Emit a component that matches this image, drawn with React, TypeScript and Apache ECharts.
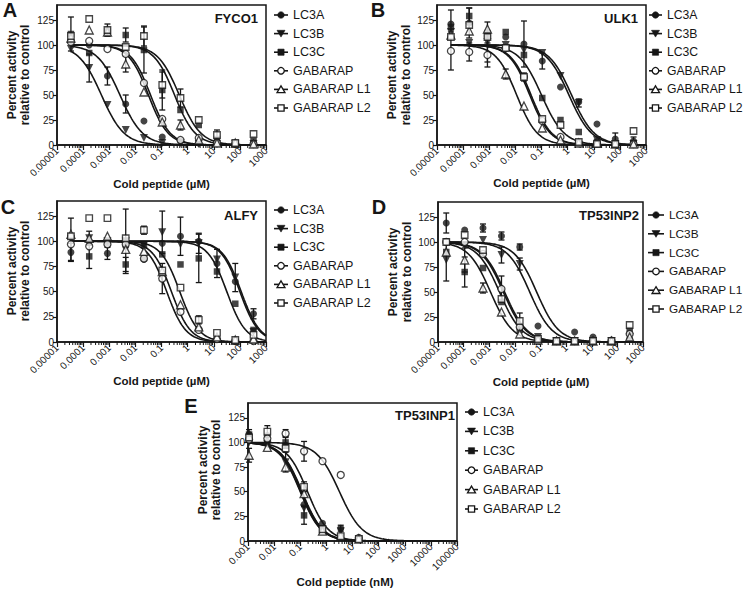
import React, { useEffect, useRef } from 'react';
import * as echarts from 'echarts';

// ---------- categories / labels ----------
const seriesNames = ['LC3A', 'LC3B', 'LC3C', 'GABARAP', 'GABARAP L1', 'GABARAP L2'];
const panelTitles = ['FYCO1', 'ULK1', 'ALFY', 'TP53INP2', 'TP53INP1'];
const panelLetters = ['A', 'B', 'C', 'D', 'E'];
const xAxisTitles = ['Cold peptide (µM)', 'Cold peptide (µM)', 'Cold peptide (µM)', 'Cold peptide (µM)', 'Cold peptide (nM)'];
const yAxisTitle = 'Percent activity\nrelative to control';
const yTickValues = [0, 25, 50, 75, 100, 125];
const xTickLabelsUM = ['0.00001', '0.0001', '0.001', '0.01', '0.1', '1', '10', '100', '1000'];
const xTickLabelsNM = ['0.001', '0.01', '0.1', '1', '10', '100', '1000', '10000', '100000'];

// ---------- concentrations ----------
const concUM = [0.0000341, 0.000171, 0.000853, 0.00427, 0.0213, 0.107, 0.533, 2.67, 13.3, 66.7, 333];
const concD = [0.000021, 0.00011, 0.00057, 0.003, 0.0155, 0.08, 0.42, 2.15, 11.2, 59, 302];
const concE = [0.0011, 0.0055, 0.0275, 0.14, 0.71, 3.55, 17.4];

// ---------- A: FYCO1 (rows: LC3A, LC3B, LC3C, GABARAP, L1, L2) ----------
const fycoY = [
  [104, 100, 69, 41, 24, 8, 4, 2, 2, 2, 1],
  [96, 77, 40, 15, 7, 2, 2, 1, 1, 1, 1],
  [111, 92, 113, 110, 95, 55, 35, 20, 6, 2, 4],
  [103, 104, 96, 91, 62, 26, 5, 7, 2, 1, 1],
  [107, 115, 113, 81, 53, 23, 20, 5, 2, 2, 1],
  [109, 126, 115, 98, 109, 60, 47, 25, 10, 2, 11],
];
const fycoErr = [
  [0, 0, 9, 9, 0, 0, 0, 0, 0, 0, 0],
  [0, 14, 0, 0, 0, 0, 0, 0, 0, 0, 0],
  [17, 0, 4, 7, 23, 20, 0, 0, 0, 0, 0],
  [0, 0, 0, 0, 0, 0, 0, 0, 0, 0, 0],
  [0, 0, 0, 8, 0, 0, 5, 0, 0, 0, 0],
  [0, 0, 6, 0, 10, 13, 9, 0, 5, 0, 0],
];
const fycoLogIC50 = [-2.59, -3.3, -0.5, -1.5, -1.42, -0.32];
const fycoHill = [1.0, 1.0, 1.1, 1.15, 1.15, 1.05];

// ---------- B: ULK1 ----------
const ulkY = [
  [121, 122, 113, 108, 101, 84, 58, 43, 21, 6, 4],
  [113, 102, 103, 100, 95, 92, 69, 42, 5, 1, 1],
  [118, 129, 109, 113, 90, 47, 25, 13, 3, 1, 1],
  [94, 93, 90, 97, 68, 24, 8, 2, 2, 1, 1],
  [110, 114, 116, 71, 39, 17, 5, 2, 2, 1, 1],
  [108, 120, 108, 97, 68, 26, 20, 3, 1, 1, 14],
];
const ulkErr = [
  [14, 15, 0, 0, 23, 8, 0, 0, 0, 6, 4],
  [0, 0, 20, 0, 0, 0, 0, 4, 0, 0, 0],
  [0, 8, 0, 0, 0, 0, 0, 0, 0, 0, 0],
  [19, 9, 12, 0, 0, 0, 0, 0, 0, 0, 0],
  [0, 0, 0, 5, 0, 0, 0, 0, 0, 0, 0],
  [0, 0, 0, 0, 4, 0, 0, 0, 0, 0, 0],
];
const ulkLogIC50 = [0.05, 0.15, -1.0, -1.45, -1.95, -1.4];
const ulkHill = [1.0, 1.0, 1.0, 1.1, 1.1, 1.1];

// ---------- C: ALFY ----------
const alfyY = [
  [89, 100, 88, 95, 82, 98, 105, 100, 78, 60, 28],
  [102, 103, 100, 100, 96, 109, 97, 98, 82, 64, 10],
  [105, 85, 98, 77, 96, 87, 77, 83, 70, 38, 12],
  [97, 95, 97, 97, 83, 63, 30, 12, 3, 1, 1],
  [107, 103, 105, 92, 90, 70, 37, 15, 5, 2, 3],
  [105, 123, 123, 103, 111, 71, 54, 22, 9, 2, 7],
];
const alfyErr = [
  [9, 0, 6, 0, 0, 0, 19, 0, 14, 0, 5],
  [21, 7, 0, 32, 0, 21, 0, 10, 0, 14, 0],
  [0, 12, 0, 7, 0, 0, 0, 24, 0, 0, 0],
  [0, 0, 0, 0, 0, 15, 0, 0, 0, 0, 0],
  [0, 0, 0, 0, 0, 0, 0, 0, 0, 0, 0],
  [0, 0, 0, 0, 4, 0, 0, 4, 0, 0, 0],
];
const alfyLogIC50 = [2.0, 2.05, 1.5, -0.8, -0.62, -0.3];
const alfyHill = [1.2, 1.2, 1.2, 1.2, 1.2, 1.2];

// ---------- D: TP53INP2 ----------
const inp2Y = [
  [119, 112, 114, 106, 95, 16, 1, 10, 5, 2, 3],
  [82, 96, 102, 87, 78, 5, 1, 1, 1, 1, 5],
  [90, 70, 74, 40, 12, 2, 1, 1, 1, 1, 12],
  [100, 100, 88, 53, 15, 2, 1, 1, 1, 1, 8],
  [90, 82, 54, 30, 8, 2, 1, 1, 1, 1, 5],
  [100, 107, 92, 43, 21, 3, 1, 1, 1, 1, 17],
];
const inp2Err = [
  [10, 0, 4, 4, 3, 0, 0, 0, 0, 0, 0],
  [21, 0, 0, 8, 6, 0, 0, 0, 0, 0, 0],
  [0, 15, 0, 0, 0, 0, 0, 0, 0, 0, 0],
  [0, 0, 0, 13, 0, 0, 0, 0, 0, 0, 0],
  [0, 12, 5, 0, 0, 0, 0, 0, 0, 0, 0],
  [0, 0, 0, 0, 8, 0, 0, 0, 0, 0, 0],
];
const inp2LogIC50 = [-1.15, -1.42, -2.6, -2.45, -2.95, -2.4];
const inp2Hill = [1.0, 1.0, 1.0, 1.0, 1.0, 1.0];

// ---------- E: TP53INP1 ----------
const inp1Y = [
  [108, 107, 97, 37, 18, 13, 3],
  [100, 98, 80, 33, 12, 10, 2],
  [108, 100, 100, 26, 10, 5, 2],
  [103, 104, 109, 91, 81, 67, 3],
  [87, 95, 75, 48, 10, 5, 2],
  [105, 111, 94, 55, 12, 5, 2],
];
const inp1Err = [
  [5, 0, 0, 0, 0, 3, 0],
  [0, 0, 10, 0, 0, 0, 0],
  [0, 0, 6, 9, 0, 0, 0],
  [0, 0, 4, 10, 0, 0, 0],
  [7, 0, 0, 0, 0, 0, 0],
  [0, 6, 0, 5, 0, 0, 0],
];
const inp1LogIC50 = [-0.95, -1.0, -0.93, 0.5, -0.98, -0.72];
const inp1Hill = [1.1, 1.1, 1.1, 1.0, 1.1, 1.1];

// ---------- styling / layout ----------
const INK = '#161616';
const FONT = '"Liberation Sans", Arial, Helvetica, sans-serif';

const markerStyles = [
  { symbol: 'circle', rotate: 0, size: 7, open: false },
  { symbol: 'triangle', rotate: 180, size: 8, open: false },
  { symbol: 'rect', rotate: 0, size: 6.5, open: false },
  { symbol: 'circle', rotate: 0, size: 7, open: true },
  { symbol: 'triangle', rotate: 0, size: 8, open: true },
  { symbol: 'rect', rotate: 0, size: 6.5, open: true },
];

const panels = [
  { conc: concUM, y: fycoY, err: fycoErr, ic50: fycoLogIC50, hill: fycoHill, xMin: 0.00001, xMax: 1000, ticks: xTickLabelsUM },
  { conc: concUM, y: ulkY, err: ulkErr, ic50: ulkLogIC50, hill: ulkHill, xMin: 0.00001, xMax: 1000, ticks: xTickLabelsUM },
  { conc: concUM, y: alfyY, err: alfyErr, ic50: alfyLogIC50, hill: alfyHill, xMin: 0.00001, xMax: 1000, ticks: xTickLabelsUM },
  { conc: concD, y: inp2Y, err: inp2Err, ic50: inp2LogIC50, hill: inp2Hill, xMin: 0.00001, xMax: 1000, ticks: xTickLabelsUM },
  { conc: concE, y: inp1Y, err: inp1Err, ic50: inp1LogIC50, hill: inp1Hill, xMin: 0.001, xMax: 100000, ticks: xTickLabelsNM },
];

const layouts = [
  { grid: { left: 57, top: 5, width: 209, height: 140 }, legend: { left: 274, top: 8.5, itemWidth: 14, gap: 5.6, font: 12.5 }, letter: [10, 0], title: [258, 18], yName: [18.7, 75], xName: [161.5, 184] },
  { grid: { left: 437, top: 5, width: 209, height: 140 }, legend: { left: 649, top: 8.5, itemWidth: 13, gap: 5.6, font: 12.2 }, letter: [378, 0], title: [638, 18], yName: [399, 75], xName: [541.5, 183] },
  { grid: { left: 57, top: 201, width: 209, height: 141 }, legend: { left: 274, top: 203.5, itemWidth: 14, gap: 5.6, font: 12.5 }, letter: [8, 197], title: [258, 215], yName: [18.7, 271], xName: [161.5, 381] },
  { grid: { left: 438, top: 202, width: 205, height: 140 }, legend: { left: 648, top: 208.5, itemWidth: 16, gap: 5.8, font: 11.8 }, letter: [379, 197], title: [639, 215], yName: [400, 272], xName: [541, 382] },
  { grid: { left: 248, top: 403, width: 209, height: 138 }, legend: { left: 465, top: 405.5, itemWidth: 13, gap: 6.4, font: 12.5 }, letter: [191, 396], title: [455, 415], yName: [209.5, 470], xName: [345, 582] },
];
const LEGEND_ROW_H = 13;

// four-parameter logistic fit (top 100, bottom 0) drawn from the IC50 / slope
function fittedCurve(logIC50: number, hill: number, from: number, to: number) {
  const pts: number[][] = [];
  const a = Math.log10(from);
  const b = Math.log10(to);
  const n = 160;
  for (let i = 0; i <= n; i++) {
    const lx = a + ((b - a) * i) / n;
    pts.push([Math.pow(10, lx), 100 / (1 + Math.pow(10, (lx - logIC50) * hill))]);
  }
  return pts;
}

function minorTickValues(xMin: number, xMax: number) {
  const out: number[][] = [];
  const k0 = Math.round(Math.log10(xMin));
  const k1 = Math.round(Math.log10(xMax));
  for (let k = k0; k < k1; k++) {
    for (let m = 2; m <= 9; m++) out.push([m * Math.pow(10, k), 0]);
  }
  return out;
}

// Prism-style legend key: short line with the marker in its middle
function legendKey(s: number, x0: number, w: number, cy: number) {
  const m = markerStyles[s];
  const cx = x0 + w / 2;
  const style = { fill: m.open ? '#ffffff' : INK, stroke: INK, lineWidth: m.open ? 1.3 : 0.6 };
  const children: any[] = [
    { type: 'line', shape: { x1: x0, y1: cy, x2: x0 + w, y2: cy }, style: { stroke: INK, lineWidth: 1.6 } },
  ];
  if (m.symbol === 'circle') {
    children.push({ type: 'circle', shape: { cx, cy, r: 3.3 }, style });
  } else if (m.symbol === 'rect') {
    children.push({ type: 'rect', shape: { x: cx - 3.1, y: cy - 3.1, width: 6.2, height: 6.2 }, style });
  } else if (m.rotate === 180) {
    children.push({ type: 'polygon', shape: { points: [[cx - 4, cy - 3.3], [cx + 4, cy - 3.3], [cx, cy + 3.5]] }, style });
  } else {
    children.push({ type: 'polygon', shape: { points: [[cx, cy - 3.5], [cx + 4, cy + 3.3], [cx - 4, cy + 3.3]] }, style });
  }
  return { type: 'group', silent: true, children };
}

function buildOption() {
  const grid: any[] = [];
  const xAxis: any[] = [];
  const yAxis: any[] = [];
  const series: any[] = [];
  const legend: any[] = [];
  const elements: any[] = [];
  const axisLineStyle = { color: INK, width: 1.5 };

  panels.forEach((p, i) => {
    const L = layouts[i];
    grid.push({ ...L.grid, show: true, borderColor: INK, borderWidth: 1.5, backgroundColor: 'rgba(0,0,0,0)' });
    xAxis.push({
      type: 'log',
      logBase: 10,
      gridIndex: i,
      min: p.xMin,
      max: p.xMax,
      axisLine: { show: true, onZero: false, lineStyle: axisLineStyle },
      axisTick: { show: true, length: 5, inside: false, lineStyle: { color: INK, width: 1.2 } },
      axisLabel: {
        interval: 0,
        rotate: 45,
        fontSize: 10,
        color: INK,
        fontFamily: FONT,
        margin: 4,
        formatter: (v: number) => {
          const idx = Math.round(Math.log10(v) - Math.log10(p.xMin));
          return p.ticks[idx] ?? '';
        },
      },
      splitLine: { show: false },
    });
    yAxis.push({
      type: 'value',
      gridIndex: i,
      min: 0,
      max: 140,
      interval: 25,
      axisLine: { show: true, lineStyle: axisLineStyle },
      axisTick: { show: true, length: 4, customValues: yTickValues, lineStyle: { color: INK, width: 1.2 } },
      axisLabel: { customValues: yTickValues, fontSize: 10, color: INK, fontFamily: FONT, margin: 3 },
      splitLine: { show: false },
    });

    // minor log ticks (2..9 within each decade)
    series.push({
      type: 'custom',
      name: 'minor-' + i,
      xAxisIndex: i,
      yAxisIndex: i,
      clip: false,
      silent: true,
      z: 1,
      data: minorTickValues(p.xMin, p.xMax),
      renderItem: (params: any, api: any) => {
        const pt = api.coord([api.value(0), 0]);
        return {
          type: 'line',
          shape: { x1: pt[0], y1: pt[1], x2: pt[0], y2: pt[1] + 3 },
          style: { stroke: INK, lineWidth: 1 },
        };
      },
    });

    // error bars
    const errData: number[][] = [];
    p.y.forEach((row, s) =>
      row.forEach((v, k) => {
        const e = p.err[s][k];
        if (e > 0) errData.push([p.conc[k], Math.max(0, v - e), v + e]);
      })
    );
    series.push({
      type: 'custom',
      name: 'err-' + i,
      xAxisIndex: i,
      yAxisIndex: i,
      silent: true,
      z: 2,
      dimensions: ['x', 'lo', 'hi'],
      encode: { x: 0, y: [1, 2] },
      data: errData,
      renderItem: (params: any, api: any) => {
        const x = api.value(0);
        const lo = api.coord([x, api.value(1)]);
        const hi = api.coord([x, api.value(2)]);
        const hw = 3;
        const st = { stroke: INK, lineWidth: 1.3 };
        return {
          type: 'group',
          children: [
            { type: 'line', shape: { x1: lo[0], y1: lo[1], x2: hi[0], y2: hi[1] }, style: st },
            { type: 'line', shape: { x1: hi[0] - hw, y1: hi[1], x2: hi[0] + hw, y2: hi[1] }, style: st },
            { type: 'line', shape: { x1: lo[0] - hw, y1: lo[1], x2: lo[0] + hw, y2: lo[1] }, style: st },
          ],
        };
      },
    });

    // fitted curves
    seriesNames.forEach((name, s) => {
      series.push({
        type: 'line',
        name,
        xAxisIndex: i,
        yAxisIndex: i,
        data: fittedCurve(p.ic50[s], p.hill[s], p.conc[0], p.xMax),
        showSymbol: false,
        symbol: 'none',
        lineStyle: { color: INK, width: 1.6 },
        itemStyle: { color: INK },
        smooth: false,
        silent: true,
        z: 3,
      });
    });

    // measured points
    seriesNames.forEach((name, s) => {
      const m = markerStyles[s];
      const itemStyle = m.open
        ? { color: '#ffffff', borderColor: INK, borderWidth: 1.3 }
        : { color: INK, borderColor: INK, borderWidth: 0 };
      series.push({
        type: 'scatter',
        name,
        xAxisIndex: i,
        yAxisIndex: i,
        data: p.y[s].map((v, k) => [p.conc[k], v]),
        symbol: m.symbol,
        symbolRotate: m.rotate,
        symbolSize: m.size,
        itemStyle,
        silent: true,
        z: 4,
      });
    });

    // legend: library legend lays out the texts; keys are drawn as Prism-style line+marker
    legend.push({
      orient: 'vertical',
      left: L.legend.left,
      top: L.legend.top,
      itemWidth: L.legend.itemWidth,
      itemHeight: 7,
      itemGap: L.legend.gap,
      padding: 0,
      selectedMode: false,
      symbolRotate: 0,
      icon: 'rect',
      itemStyle: { color: 'rgba(0,0,0,0)', borderWidth: 0 },
      data: seriesNames,
      textStyle: { fontSize: L.legend.font, color: INK, fontFamily: FONT, lineHeight: LEGEND_ROW_H },
    });
    seriesNames.forEach((name, s) => {
      const cy = L.legend.top + LEGEND_ROW_H / 2 + s * (LEGEND_ROW_H + L.legend.gap);
      elements.push(legendKey(s, L.legend.left, L.legend.itemWidth, cy));
    });

    elements.push({
      type: 'text',
      x: L.letter[0],
      y: L.letter[1],
      style: { text: panelLetters[i], fontSize: 20, fontWeight: 'bold', fontFamily: FONT, fill: INK, align: 'center', verticalAlign: 'top' },
    });
    elements.push({
      type: 'text',
      x: L.title[0],
      y: L.title[1],
      style: { text: panelTitles[i], fontSize: 13, fontWeight: 'bold', fontFamily: FONT, fill: INK, align: 'right', verticalAlign: 'middle' },
    });
    elements.push({
      type: 'text',
      x: L.yName[0],
      y: L.yName[1],
      rotation: Math.PI / 2,
      style: { text: yAxisTitle, fontSize: 12, fontWeight: 'bold', fontFamily: FONT, fill: INK, lineHeight: 13.5, align: 'center', verticalAlign: 'middle' },
    });
    elements.push({
      type: 'text',
      x: L.xName[0],
      y: L.xName[1],
      style: { text: xAxisTitles[i], fontSize: 11.5, fontWeight: 'bold', fontFamily: FONT, fill: INK, align: 'center', verticalAlign: 'middle' },
    });
  });

  return {
    animation: false,
    backgroundColor: '#ffffff',
    textStyle: { fontFamily: FONT },
    grid,
    xAxis,
    yAxis,
    legend,
    series,
    graphic: { elements },
  };
}

export default function App() {
  const ref = useRef<HTMLDivElement>(null);
  useEffect(() => {
    if (!ref.current) return;
    const chart = echarts.init(ref.current, undefined, { renderer: 'svg' });
    chart.setOption(buildOption() as any);
    return () => chart.dispose();
  }, []);
  return (
    <div
      ref={ref}
      style={{ position: 'absolute', left: 0, top: 0, width: 745, height: 589, background: '#ffffff' }}
    />
  );
}
